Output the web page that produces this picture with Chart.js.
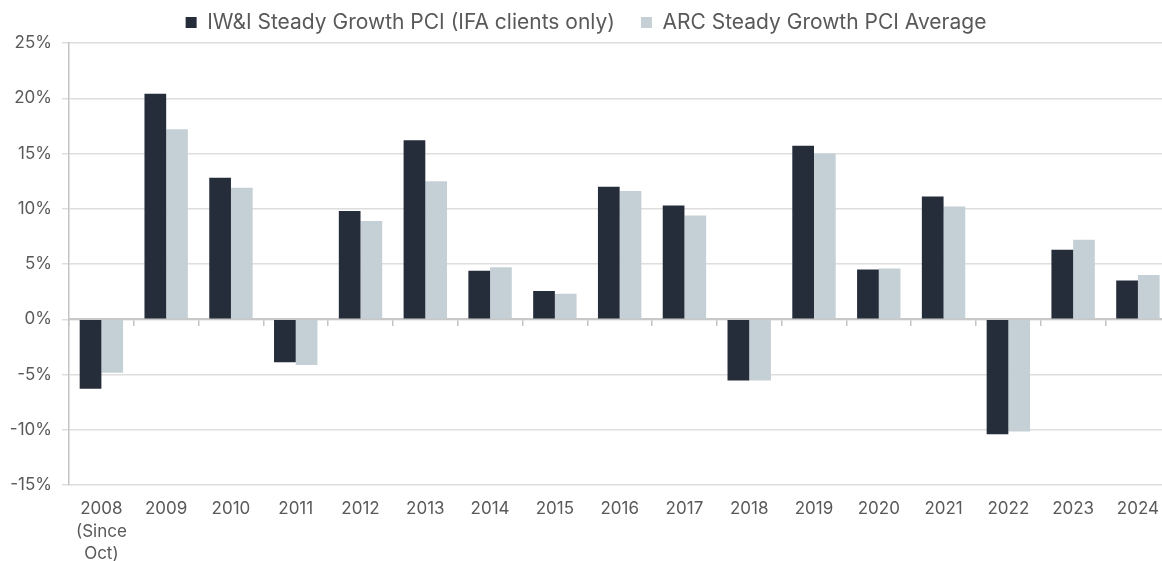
<!DOCTYPE html>
<html><head><meta charset="utf-8">
<script src="https://cdn.jsdelivr.net/npm/chart.js@4/dist/chart.umd.min.js"></script>
<style>html,body{margin:0;padding:0;overflow:hidden;background:#fff}
#wrap{position:relative;width:1172px;height:561px}</style></head>
<body><div id="wrap"><canvas id="c"></canvas></div>
<script>
const categories = [['2008','(Since','Oct)'],'2009','2010','2011','2012','2013','2014','2015','2016','2017','2018','2019','2020','2021','2022','2023','2024'];
const seriesNames = ['IW&I Steady Growth PCI (IFA clients only)', 'ARC Steady Growth PCI Average'];
const iwiValues = [-6.3, 20.4, 12.8, -3.9, 9.8, 16.2, 4.4, 2.55, 12.0, 10.3, -5.55, 15.7, 4.5, 11.1, -10.4, 6.3, 3.5];
const arcValues = [-4.85, 17.2, 11.9, -4.15, 8.9, 12.5, 4.7, 2.3, 11.6, 9.4, -5.55, 15.0, 4.6, 10.2, -10.15, 7.2, 4.0];
const yMin = -15, yMax = 25, yStep = 5;
const tickSuffix = '%';

new Chart(document.getElementById('c'), {
  type: 'bar',
  data: {
    labels: categories,
    datasets: [
      { label: seriesNames[0], data: iwiValues, backgroundColor: '#252c3a', borderWidth: 0 },
      { label: seriesNames[1], data: arcValues, backgroundColor: '#c5d0d6', borderWidth: 0 }
    ]
  },
  options: {
    responsive: true,
    maintainAspectRatio: false,
    animation: false,
    devicePixelRatio: 1,
    layout: { padding: { top: -14, left: 0, right: 0, bottom: 0 } },
    datasets: { bar: { categoryPercentage: 0.67, barPercentage: 1 } },
    plugins: {
      tooltip: { enabled: false },
      legend: {
        position: 'top',
        labels: {
          boxWidth: 11, boxHeight: 11, padding: 26,
          color: '#595959',
          font: { family: 'Inter', size: 21 }
        }
      }
    },
    scales: {
      x: {
        position: 'bottom',
        grid: { display: false, drawTicks: false },
        border: { display: false },
        ticks: { color: '#595959', padding: 13, maxRotation: 0, autoSkip: false,
          font: { family: 'Inter', size: 17, lineHeight: 1.32 } },
        afterFit(s) { s.height = 76; }
      },
      x2: {
        type: 'category',
        labels: categories,
        position: { y: 0 },
        offset: true,
        grid: { offset: true, drawOnChartArea: false, drawTicks: true, tickLength: 6, color: '#c4c4c4', lineWidth: 1.5 },
        border: { display: true, color: '#c8c8c8', width: 2 },
        ticks: { display: false },
        afterFit(s) { s.height = 0; }
      },
      y: {
        min: yMin, max: yMax,
        ticks: { stepSize: yStep, color: '#595959', padding: 10,
          font: { family: 'Inter', size: 17 },
          callback: v => v + tickSuffix },
        grid: { color: '#dedede', lineWidth: 1.5, tickLength: 7, drawTicks: true },
        border: { display: true, color: '#c4c4c4', width: 1.5 },
        afterFit(s) { s.width = 69; }
      }
    }
  }
});
</script>
</body></html>
